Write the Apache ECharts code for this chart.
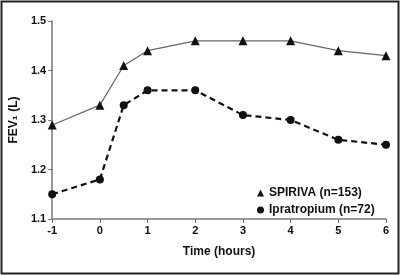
<!DOCTYPE html>
<html>
<head>
<meta charset="utf-8">
<script src="https://cdn.jsdelivr.net/npm/echarts@6/dist/echarts.min.js"></script>
<style>
  html, body { margin: 0; padding: 0; background: #fff; }
  #chart { width: 400px; height: 275px; }
</style>
</head>
<body>
<div id="chart"></div>
<script>
// time points (hours) and FEV1 readings
const hours = [-1, 0, 0.5, 1, 2, 3, 4, 5, 6];
const spiriva = [1.29, 1.33, 1.41, 1.44, 1.46, 1.46, 1.46, 1.44, 1.43];
const ipratropium = [1.15, 1.18, 1.33, 1.36, 1.36, 1.31, 1.30, 1.26, 1.25];
const seriesNames = ['SPIRIVA (n=153)', 'Ipratropium (n=72)'];

const pair = (xs, ys) => xs.map((x, i) => [x, ys[i]]);

const chart = echarts.init(document.getElementById('chart'));
const font = 'Liberation Sans, Arial, sans-serif';

chart.setOption({
  animation: false,
  textStyle: {fontFamily: font},
  graphic: [{
    type: 'rect',
    shape: {x: 1.5, y: 1.5, width: 397, height: 272},
    style: {fill: 'none', stroke: '#222', lineWidth: 2}
  }],
  grid: {left: 50, right: 14, top: 21, bottom: 56},
  legend: {
    orient: 'vertical',
    left: 252,
    top: 182,
    itemWidth: 7,
    itemHeight: 7,
    itemGap: 5,
    textStyle: {fontFamily: font, fontWeight: 'bold', fontSize: 12, color: '#111'},
    data: [
      {name: seriesNames[0], icon: 'triangle'},
      {name: seriesNames[1], icon: 'circle'}
    ]
  },
  xAxis: {
    type: 'value',
    min: -1,
    max: 6,
    interval: 1,
    name: 'Time (hours)',
    nameLocation: 'middle',
    nameGap: 27,
    nameTextStyle: {fontWeight: 'bold', fontSize: 12, color: '#111'},
    splitLine: {show: false},
    axisLine: {onZero: false, lineStyle: {color: '#777', width: 1.5}},
    axisTick: {length: 4, lineStyle: {color: '#777'}},
    axisLabel: {fontWeight: 'bold', fontSize: 11, color: '#111', margin: 6}
  },
  yAxis: {
    type: 'value',
    min: 1.1,
    max: 1.5,
    interval: 0.1,
    name: 'FEV\u2081 (L)',
    nameLocation: 'middle',
    nameGap: 30,
    nameTextStyle: {fontWeight: 'bold', fontSize: 12, color: '#111'},
    splitLine: {show: false},
    axisLine: {show: true, onZero: false, lineStyle: {color: '#777', width: 1.5}},
    axisTick: {show: true, length: 4, lineStyle: {color: '#777'}},
    axisLabel: {fontWeight: 'bold', fontSize: 11, color: '#111', margin: 6,
      formatter: v => v.toFixed(1)}
  },
  series: [
    {
      name: seriesNames[0],
      type: 'line',
      data: pair(hours, spiriva),
      symbol: 'triangle',
      symbolSize: 9,
      itemStyle: {color: '#111'},
      lineStyle: {color: '#666', width: 1.2}
    },
    {
      name: seriesNames[1],
      type: 'line',
      data: pair(hours, ipratropium),
      symbol: 'circle',
      symbolSize: 8,
      itemStyle: {color: '#111'},
      lineStyle: {color: '#111', width: 2.2, type: [6, 4]}
    }
  ]
});
</script>
</body>
</html>
